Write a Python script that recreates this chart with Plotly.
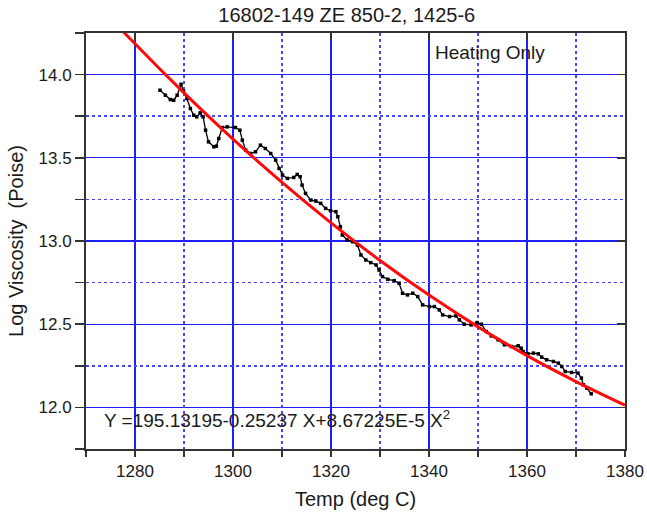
import plotly.graph_objects as go

temp = [1285.1, 1286.2, 1287.2, 1287.9, 1288.6, 1289.4, 1289.9, 1290.6, 1291.3, 1292.0,
        1292.6, 1293.3, 1293.9, 1294.4, 1295.0, 1296.1, 1296.6, 1297.1, 1297.8, 1298.8,
        1300.5, 1301.4, 1301.9, 1302.6, 1303.6, 1304.6, 1305.6,
        1306.6, 1307.7, 1308.7, 1309.4, 1310.1, 1311.1, 1312.4, 1313.1, 1313.7, 1314.1,
        1314.8, 1315.9, 1316.9, 1317.9, 1318.9, 1319.9, 1321.0, 1321.4, 1321.9, 1322.3,
        1323.3, 1324.4, 1325.4, 1326.1, 1327.1,
        1328.1, 1329.2, 1329.8, 1330.5, 1331.6, 1332.9, 1333.9, 1334.6, 1335.6, 1336.7,
        1337.7, 1338.7, 1340.1, 1341.1, 1342.1, 1342.8, 1344.2, 1345.5, 1346.2, 1347.2,
        1348.6, 1349.8,
        1350.7, 1351.7, 1352.7, 1354.1, 1355.4, 1356.8, 1358.2, 1358.8, 1359.2, 1360.2,
        1361.3, 1362.3, 1363.0, 1364.0, 1365.4, 1366.4, 1367.1, 1367.8, 1369.1, 1370.4,
        1371.1, 1371.5, 1372.2, 1373.1]
log_visc = [13.906, 13.876, 13.85, 13.846, 13.876, 13.942, 13.90, 13.856, 13.796, 13.756,
            13.746, 13.77, 13.746, 13.666, 13.596, 13.566, 13.57, 13.616, 13.682, 13.686,
            13.682, 13.666, 13.606, 13.546, 13.526, 13.536, 13.576,
            13.556, 13.526, 13.486, 13.436, 13.396, 13.376, 13.382, 13.40, 13.386, 13.336,
            13.286, 13.246, 13.24, 13.226, 13.196, 13.182, 13.176, 13.146, 13.086, 13.036,
            13.006, 12.996, 12.976, 12.916, 12.886,
            12.87, 12.856, 12.826, 12.786, 12.77, 12.762, 12.746, 12.686, 12.676, 12.686,
            12.666, 12.616, 12.606, 12.606, 12.586, 12.556, 12.546, 12.55, 12.526, 12.50,
            12.496, 12.51,
            12.50, 12.456, 12.43, 12.406, 12.376, 12.366, 12.37, 12.356, 12.336, 12.322,
            12.326, 12.322, 12.302, 12.286, 12.276, 12.266, 12.246, 12.216, 12.21, 12.206,
            12.176, 12.136, 12.116, 12.082]

# Fitted curve
fit_temp = [1270, 1280, 1290, 1300, 1310, 1320, 1330, 1340, 1350, 1360, 1370, 1380]
fit_visc = [14.497, 14.185, 13.890, 13.612, 13.352, 13.109, 12.883, 12.675, 12.484, 12.311, 12.155, 12.013]

x_ticks = [1280, 1300, 1320, 1340, 1360, 1380]
y_ticks = [12.0, 12.5, 13.0, 13.5, 14.0]
x_minor = [1270, 1290, 1310, 1330, 1350, 1370]
y_minor = [11.75, 12.25, 12.75, 13.25, 13.75, 14.25]

title_text = "16802-149 ZE 850-2, 1425-6"
x_title = "Temp (deg C)"
y_title = "Log Viscosity  (Poise)"
note_text = "Heating Only"
eq_text = "Y =195.13195-0.25237 X+8.67225E-5 X<sup>2</sup>"

FONT = "Liberation Sans, Arial, sans-serif"
TXT = "#1a1a1a"
GRID = "rgb(30,30,255)"
GRID_MINOR = "rgb(70,70,255)"
AX = "#333333"
XR = [1270, 1380]
YR = [11.75, 14.25]

fig = go.Figure()
# invisible trace to carry the minor-grid overlay axes
fig.add_trace(go.Scatter(x=[XR[0]], y=[YR[0]], xaxis="x3", yaxis="y3",
                         mode="markers", marker=dict(opacity=0),
                         showlegend=False, hoverinfo="skip"))
fig.add_trace(go.Scatter(
    x=temp, y=log_visc, mode="lines+markers",
    line=dict(color="black", width=1.3),
    marker=dict(color="black", size=3.5, symbol="square"),
    showlegend=False, hoverinfo="skip"))
fig.add_trace(go.Scatter(
    x=fit_temp, y=fit_visc, mode="lines",
    line=dict(color="rgb(255,10,10)", width=3, shape="spline"),
    showlegend=False, hoverinfo="skip"))
# invisible trace for mirrored inside-tick axes
fig.add_trace(go.Scatter(x=[XR[0]], y=[YR[0]], xaxis="x2", yaxis="y2",
                         mode="markers", marker=dict(opacity=0),
                         showlegend=False, hoverinfo="skip"))

fig.update_layout(
    width=647, height=513,
    margin=dict(l=86, r=22, t=33, b=64),
    paper_bgcolor="white", plot_bgcolor="white",
    font=dict(family=FONT, color=TXT),
    title=dict(text=title_text, x=0.536, xanchor="center", y=0.970, yanchor="middle",
               font=dict(size=20, family=FONT, color=TXT)),
    xaxis=dict(
        range=XR, tickvals=x_ticks, ticks="outside", ticklen=6, tickwidth=1.5,
        tickcolor=AX, tickfont=dict(size=17, family=FONT, color=TXT),
        showline=True, linecolor=AX, linewidth=2, mirror=True, automargin=False,
        showgrid=True, gridcolor=GRID, gridwidth=1.2, zeroline=False,
        minor=dict(dtick=10, tick0=1270, ticks="outside", ticklen=6, tickwidth=1.5,
                   tickcolor=AX, showgrid=False),
        title=dict(text=x_title, font=dict(size=20, family=FONT, color=TXT), standoff=12),
    ),
    yaxis=dict(
        range=YR, tickvals=y_ticks, tickformat=".1f", ticks="outside", ticklen=9,
        tickwidth=1.5, tickcolor=AX, tickfont=dict(size=17, family=FONT, color=TXT),
        showline=True, linecolor=AX, linewidth=2, mirror=True, automargin=False,
        showgrid=True, gridcolor=GRID, gridwidth=1.2, zeroline=False,
        minor=dict(dtick=0.25, tick0=11.75, ticks="outside", ticklen=9, tickwidth=1.5,
                   tickcolor=AX, showgrid=False),
        title=dict(text=y_title, font=dict(size=20, family=FONT, color=TXT), standoff=10),
    ),
    xaxis3=dict(range=XR, overlaying="x", tickvals=x_minor, showticklabels=False,
                ticks="", showgrid=True, gridcolor=GRID_MINOR, gridwidth=1.5, griddash="dot",
                zeroline=False, showline=False, automargin=False),
    yaxis3=dict(range=YR, overlaying="y", tickvals=y_minor, showticklabels=False,
                ticks="", showgrid=True, gridcolor=GRID_MINOR, gridwidth=1.5, griddash="dot",
                zeroline=False, showline=False, automargin=False),
    xaxis2=dict(range=XR, overlaying="x", side="top", tickvals=x_ticks, ticks="inside",
                ticklen=7, tickwidth=1.5, tickcolor=AX, showticklabels=False,
                showgrid=False, zeroline=False, showline=False, automargin=False),
    yaxis2=dict(range=YR, overlaying="y", side="right", tickvals=y_ticks, ticks="inside",
                ticklen=8, tickwidth=1.5, tickcolor=AX, showticklabels=False,
                showgrid=False, zeroline=False, showline=False, automargin=False),
    annotations=[
        dict(text=note_text, x=1352.5, y=14.13, xref="x", yref="y", showarrow=False,
             xanchor="center", yanchor="middle", font=dict(size=19, family=FONT, color=TXT)),
        dict(text=eq_text, x=1273.2, y=11.93, xref="x", yref="y", showarrow=False,
             xanchor="left", yanchor="middle", font=dict(size=19, family=FONT, color=TXT)),
    ],
)

fig.write_html("out.html",
               config={"displayModeBar": False, "staticPlot": True},
               post_script="document.body.style.margin='0';document.body.style.padding='0';")
